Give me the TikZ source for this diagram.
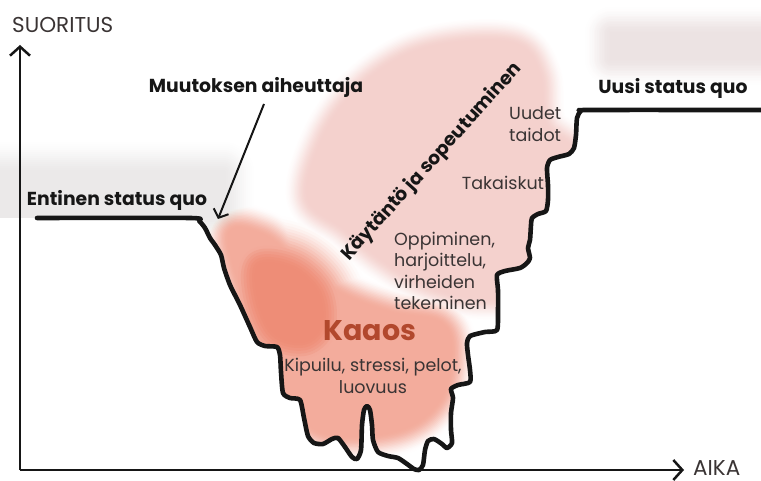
\documentclass[tikz,border=0pt]{standalone}
\usepackage{fontspec}
\setmainfont{Poppins}
\usetikzlibrary{arrows.meta}
\definecolor{kaosc}{RGB}{236,125,100}
\definecolor{pinkc}{RGB}{241,196,191}
\definecolor{hazec}{RGB}{222,219,219}
\definecolor{hazeb}{RGB}{226,212,212}
\definecolor{kaostext}{RGB}{178,72,45}
\definecolor{bodytext}{RGB}{58,52,52}
\definecolor{inkc}{RGB}{22,22,22}

% soft blob: color, from %, to %, blur width, path (smoothstep ramp)
\newcommand\softblob[5]{%
  \foreach \k in {0,...,18}{%
    \pgfmathsetmacro\bw{2*#4*(18-\k)/18}%
    \pgfmathsetmacro\bt{\k/18}%
    \pgfmathsetmacro\bp{#2+(#3-#2)*\bt*\bt*(3-2*\bt)}%
    \path[fill=#1!\bp, draw=#1!\bp, line width=\bw pt, line join=round, line cap=round] #5;%
  }}

\newcommand\curvepath{plot[smooth, tension=0.4] coordinates {
(37,218) (190,218) (199,221) (205,228) (210,238) (215,245) (221,255) (224,268)
(230,285) (240,305) (250,327) (257,342) (265,346) (277,347) (280,355) (281,372)
(283,393) (290,398) (300,400) (304,418) (308,436) (314,443) (323,444) (332,439)
(338,438) (345,447) (352,457) (357,459) (361,450) (362,425) (364,410) (367,406)
(370,410) (372,425) (373,440) (378,452) (388,456) (398,458) (407,464) (414,469)
(419,470) (423,465) (425,450) (428,441) (434,439) (442,444) (447,448) (452,443)
(451,430) (451,413) (453,398) (451,389) (458,385) (470,382) (470,370) (468,355)
(467,343) (470,336) (485,332) (497,330) (498,310) (498,290) (497,275) (505,271)
(520,268) (527,263) (530,258) (528,248) (530,240) (531,225) (532,218) (538,214)
(546,211) (548,200) (548,185) (547,168) (550,160) (558,157) (569,154) (574,148)
(576,135) (577,118) (581,111) (590,110) (761,110)}}

\tikzset{
  boldlab/.style={font=\fontsize{18.8}{21}\selectfont\bfseries, text=inkc, inner sep=0pt},
  axislab/.style={font=\fontsize{21.5}{23}\selectfont, text=bodytext, inner sep=0pt},
  bodylab/.style={font=\fontsize{17.5}{21.5}\selectfont, text=bodytext, inner sep=0pt},
  kaoslab/.style={font=\fontsize{28.5}{30}\selectfont\bfseries, text=kaostext, inner sep=0pt},
  axisline/.style={line width=2.5pt, draw=inkc, -{Straight Barb[length=9pt,width=20pt,line width=2.5pt]}},
  curveline/.style={line width=4.6pt, draw=inkc, line join=round, line cap=round},
  pointer/.style={line width=2pt, draw=inkc, -{Straight Barb[length=7pt,width=16pt,line width=2pt]}}
}

\begin{document}
\begin{tikzpicture}[x=1pt, y=-1pt]
\useasboundingbox (0,0) rectangle (761,481);

% soft colour areas, clipped above the curve
\begin{scope}
  \clip \curvepath -- (761,0) -- (0,0) -- (0,218) -- cycle;
  \begin{scope}[blend mode=darken]
  \softblob{hazec}{0}{62}{36}{(-60,174) rectangle (222,214)}
  \softblob{hazeb}{0}{66}{30}{(612,34) rectangle (840,58)}
  \softblob{pinkc}{0}{78}{24}{plot[smooth cycle, tension=0.6] coordinates {
    (308,198) (322,140) (355,92) (405,56) (462,42) (518,45) (540,75) (546,125)
    (580,160) (565,235) (530,288) (478,298) (425,284) (382,259) (345,229)}}
  \softblob{kaosc}{0}{64}{26}{plot[smooth cycle, tension=0.6] coordinates {
    (228,238) (262,234) (300,264) (340,293) (390,312) (440,322) (452,352)
    (440,400) (400,430) (330,435) (290,405) (260,340)}}
  \softblob{kaosc}{0}{88}{50}{plot[smooth cycle, tension=0.6] coordinates {
    (258,265) (292,268) (318,292) (322,324) (304,342) (274,334) (258,300)}}
  \end{scope}
\end{scope}

% axes
\coordinate (O) at (20,470);
\coordinate (ytop) at (20,45);
\coordinate (xend) at (684,470);
\draw[axisline] (O) -- (ytop);
\draw[axisline] (O) -- (xend);
\node[axislab, anchor=west] (suor) at (12,25) {SUORITUS};
\node[axislab, anchor=west] (aika) at (693,468) {AIKA};

% the curve
\draw[curveline] \curvepath;

% labels
\node[boldlab] (muut) at (256,87) {Muutoksen aiheuttaja};
\coordinate (mstart) at (264,104);
\coordinate (mend) at (218,219);
\draw[pointer] (mstart) -- (mend);
\node[boldlab] (entinen) at (117,200) {Entinen status quo};
\node[boldlab] (uusi) at (673,88) {Uusi status quo};
\node[boldlab, rotate=48] (kaytanto) at (432,162) {Käytäntö ja sopeutuminen};

\node[bodylab, align=left, anchor=west] (uudet) at (509,124) {Uudet\\taidot};
\node[bodylab] (takaiskut) at (503,183) {Takaiskut};
\node[bodylab, align=left, anchor=west] (oppi) at (394,271) {Oppiminen,\\harjoittelu,\\virheiden\\tekeminen};
\node[kaoslab] (kaaos) at (370,331) {Kaaos};
\node[bodylab, align=center] (kipu) at (373,376) {Kipuilu, stressi, pelot,\\luovuus};
\end{tikzpicture}
\end{document}
